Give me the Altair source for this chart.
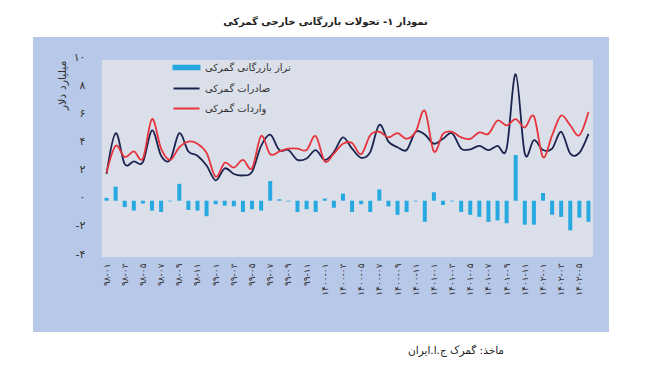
import altair as alt
import pandas as pd

FONT = "DejaVu Sans"

years = ["۹۸", "۹۹", "۱۴۰۰", "۱۴۰۱", "۱۴۰۲"]
month_nums = ["۰۱", "۰۲", "۰۳", "۰۴", "۰۵", "۰۶", "۰۷", "۰۸", "۰۹", "۱۰", "۱۱", "۱۲"]
months = [f"{y}-{m}" for y in years for m in month_nums][:54]
shown_months = months[::2]

balance = [0.2, 1.0, -0.45, -0.7, -0.2, -0.7, -0.8, -0.05, 1.2, -0.65, -0.7, -1.1,
           -0.25, -0.35, -0.4, -0.8, -0.6, -0.7, 1.4, 0.1, -0.05, -0.8, -0.6, -0.8,
           0.15, -0.5, 0.5, -0.8, -0.25, -0.8, 0.8, -0.4, -1.0, -0.8, -0.05, -1.5,
           0.6, -0.3, -0.05, -0.8, -1.0, -1.15, -1.5, -1.4, -1.6, 3.25, -1.7, -1.7,
           0.55, -1.0, -1.15, -2.1, -1.2, -1.5]

exports = [1.9, 4.8, 2.6, 2.8, 2.75, 5.0, 3.2, 2.9, 4.8, 3.5, 3.2, 2.5,
           1.45, 2.3, 1.9, 1.8, 2.05, 3.9, 4.7, 3.6, 3.6, 2.9, 3.0, 3.6,
           2.9, 3.45, 4.5, 3.7, 3.05, 3.45, 5.4, 4.2, 3.8, 3.6, 4.9, 4.7,
           4.05, 4.4, 4.8, 3.7, 3.65, 3.9, 3.6, 3.9, 3.7, 9.0, 3.35, 4.3,
           3.6, 3.7, 4.9, 3.35, 3.4, 4.75]

imports = [2.0, 3.9, 3.1, 3.5, 3.0, 5.8, 3.7, 2.9, 3.8, 4.2, 4.05, 3.4,
           1.7, 2.7, 2.35, 2.9, 2.3, 4.6, 3.3, 3.5, 3.7, 3.7, 3.6, 4.6,
           2.8, 3.35, 4.05, 4.1, 3.3, 4.65, 4.9, 4.5, 4.8, 4.4, 4.9, 6.4,
           3.5, 4.75, 4.9, 4.5, 4.4, 4.85, 4.75, 5.7, 5.35, 5.8, 5.2, 6.0,
           3.1, 4.65, 6.05, 5.35, 4.65, 6.3]

series_names = ["تراز بازرگانی گمرکی", "صادرات گمرکی", "واردات گمرکی"]
series_colors = ["#27a8e0", "#1b244f", "#e8343c"]

y_ticks = [-4, -2, 0, 2, 4, 6, 8, 10]
y_tick_labels = ["-۴", "-۲", "۰", "۲", "۴", "۶", "۸", "۱۰"]

title_text = "نمودار ۱- تحولات بازرگانی خارجی گمرکی"
y_title = "میلیارد دلار"
source_text = "ماخذ: گمرک ج.ا.ایران"

PANEL = "#b7c8e8"
PLOT_BG = "#dadfe9"

W, H = 491, 197

df_bar = pd.DataFrame({"month": months, "value": balance, "series": series_names[0]})
df_line = pd.concat([
    pd.DataFrame({"month": months, "value": exports, "series": series_names[1]}),
    pd.DataFrame({"month": months, "value": imports, "series": series_names[2]}),
])

label_expr = ""
for v, lab in zip(y_ticks, y_tick_labels):
    label_expr += f"datum.value == {v} ? '{lab}' : "
label_expr += "''"

bar_shape = "M-2,-0.28H2V0.28H-2Z"
line_shape = "M-2,0H2"
shape_expr = f"datum.value === '{series_names[0]}' ? '{bar_shape}' : '{line_shape}'"
color_expr = (f"datum.value === '{series_names[0]}' ? '{series_colors[0]}' : "
              f"datum.value === '{series_names[1]}' ? '{series_colors[1]}' : '{series_colors[2]}'")

color_scale = alt.Scale(domain=series_names, range=series_colors)
legend = alt.Legend(
    orient="none", legendX=77, legendY=0, title=None, direction="vertical",
    padding=0, symbolSize=169, labelOffset=11, rowPadding=7,
    labelFont=FONT, labelFontSize=10, labelColor="#333333", labelLimit=300,
    symbolType=alt.ExprRef(shape_expr),
    symbolFillColor=alt.ExprRef(color_expr),
    symbolStrokeColor=alt.ExprRef(color_expr),
    symbolStrokeWidth=2, symbolOpacity=1, zindex=2,
)

x_axis = alt.Axis(values=shown_months, labelAngle=-90, ticks=False, domain=False,
                  labelPadding=6, labelFont=FONT, labelFontSize=9,
                  labelColor="#333333", labelOverlap=False, labelBound=False,
                  grid=False, zindex=2)
y_axis = alt.Axis(values=y_ticks, labelExpr=label_expr, grid=False, ticks=False,
                  domain=False, labelPadding=17, labelOffset=-3, labelFont=FONT,
                  labelFontSize=11, labelColor="#333333", labelOverlap=False,
                  labelFlush=False, labelBound=False,
                  title=y_title, titleX=-40, titleY=0, titleAngle=-90,
                  titleAlign="right", titleBaseline="middle", titleFont=FONT,
                  titleFontSize=11, titleFontWeight="normal", titleColor="#333333",
                  zindex=2)

x_enc = alt.X("month:N", sort=months, title=None,
              scale=alt.Scale(paddingInner=0.1, paddingOuter=0.05), axis=x_axis)
y_enc = alt.Y("value:Q", scale=alt.Scale(domain=[-4, 10], nice=False, zero=False),
              axis=y_axis)

one = pd.DataFrame({"k": [0]})

panel = alt.Chart(one).mark_rect(color=PANEL).encode(
    x=alt.value(-69), x2=alt.value(507), y=alt.value(-23), y2=alt.value(272))
plot_bg = alt.Chart(one).mark_rect(color=PLOT_BG).encode(
    x=alt.value(0), x2=alt.value(W), y=alt.value(0), y2=alt.value(H))

bars = alt.Chart(df_bar).mark_bar(size=4).encode(
    x=x_enc, y=y_enc,
    color=alt.Color("series:N", scale=color_scale, legend=legend),
)
lines = alt.Chart(df_line).mark_line(interpolate="cardinal", strokeWidth=1.8).encode(
    x=x_enc, y=y_enc,
    color=alt.Color("series:N", scale=color_scale, legend=legend),
)

source = alt.Chart(one).mark_text(
    text=source_text, font=FONT, fontSize=10.5, color="#222222", align="center",
    baseline="bottom").encode(x=alt.value(354), y=alt.value(296))

chart = alt.layer(panel, plot_bg, bars, lines, source).properties(
    width=W, height=H,
    title=alt.TitleParams(title_text, font=FONT, fontSize=10, fontWeight="bold",
                          color="#222222", anchor="middle", frame="group",
                          offset=10, dx=-22),
    padding={"left": 94, "top": 52, "right": 51, "bottom": 100},
    autosize=alt.AutoSizeParams(type="none"),
).configure_view(stroke=None).configure(background="white")

chart.save("out.html", embed_options={"renderer": "svg", "actions": False})
